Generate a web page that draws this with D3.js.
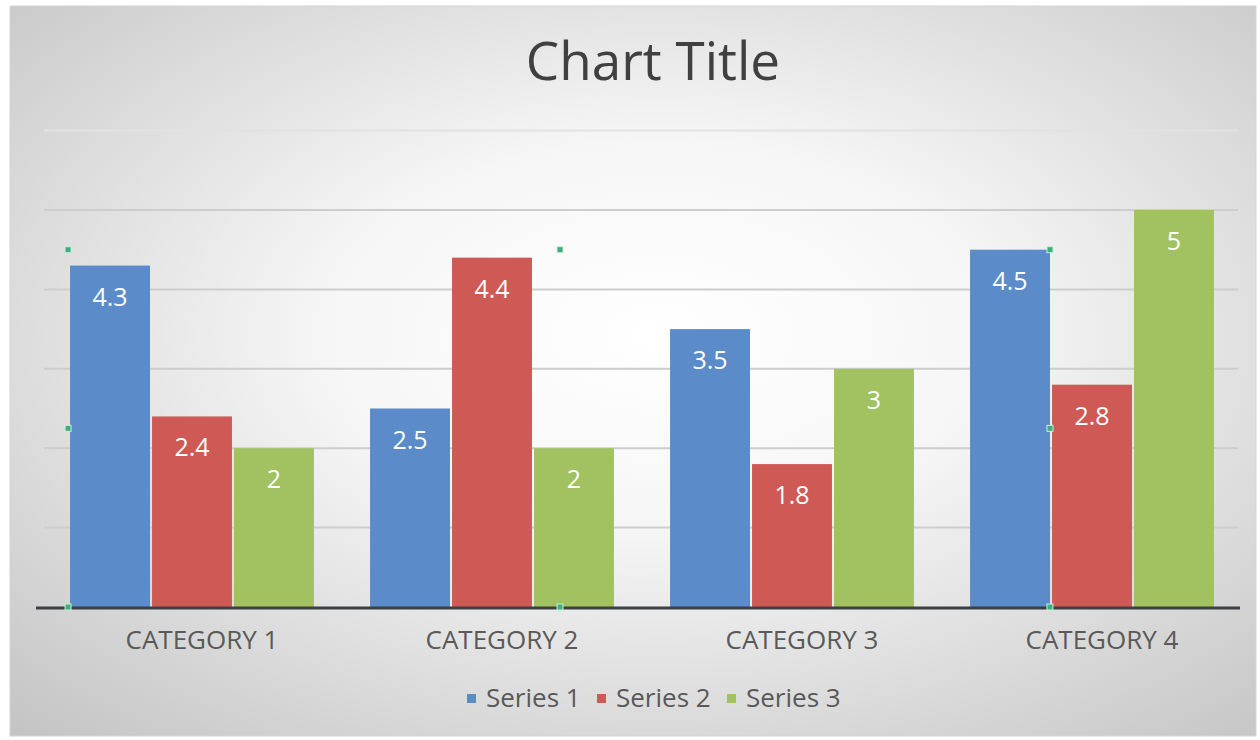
<!DOCTYPE html>
<html>
<head>
<meta charset="utf-8">
<script src="https://cdn.jsdelivr.net/npm/d3@7"></script>
<style>
  html, body { margin: 0; padding: 0; background: #fff; }
  svg { display: block; font-family: "Open Sans", "Noto Sans", sans-serif; }
</style>
</head>
<body>
<svg id="chart" width="1260" height="740"></svg>
<script>
const categories = ['CATEGORY 1', 'CATEGORY 2', 'CATEGORY 3', 'CATEGORY 4']
const seriesNames = ['Series 1', 'Series 2', 'Series 3']
const series1 = [4.3, 2.5, 3.5, 4.5]
const series2 = [2.4, 4.4, 1.8, 2.8]
const series3 = [2, 2, 3, 5]
const yTicks = [1, 2, 3, 4, 5, 6]
const colors = ['#5b8bc8', '#cf5a55', '#a2c262']

const W = 1260
const H = 740
const svg = d3.select('#chart')

// NOTE: background with radial gradient
const defs = svg.append('defs')
const grad = defs.append('radialGradient')
  .attr('id', 'bg')
  .attr('cx', '52%').attr('cy', '45%').attr('r', '75%')
grad.append('stop').attr('offset', '0%').attr('stop-color', '#ffffff')
grad.append('stop').attr('offset', '35%').attr('stop-color', '#f6f6f6')
grad.append('stop').attr('offset', '100%').attr('stop-color', '#c4c4c4')

svg.append('rect')
  .attr('x', 10).attr('y', 6)
  .attr('width', W - 14).attr('height', H - 10)
  .attr('fill', 'url(#bg)')
  .attr('stroke', '#d4d4d4')

// NOTE: scales
const x0 = d3.scaleBand()
  .domain(categories)
  .range([42, 1242])
  .paddingInner(0.187)
  .paddingOuter(0.0935)

const x1 = d3.scaleBand()
  .domain(seriesNames)
  .range([0, x0.bandwidth()])
  .paddingInner(0.025)

const y = d3.scaleLinear().domain([0, 6]).range([607, 130.6])

// NOTE: gridlines
svg.append('g')
  .selectAll('line')
  .data(yTicks)
  .join('line')
  .attr('x1', 44).attr('x2', 1238)
  .attr('y1', d => y(d)).attr('y2', d => y(d))
  .attr('stroke', d => (d === 6 ? '#e2e2e2' : '#cdcdcd'))
  .attr('stroke-width', 2)

// NOTE: bars
const rows = categories.map((c, i) => ({
  category: c,
  values: [series1[i], series2[i], series3[i]],
}))

const groups = svg.append('g')
  .selectAll('g')
  .data(rows)
  .join('g')
  .attr('transform', d => `translate(${x0(d.category)},0)`)

const cells = groups.selectAll('g')
  .data(d => d.values.map((v, k) => ({ name: seriesNames[k], value: v, k })))
  .join('g')

cells.append('rect')
  .attr('x', d => x1(d.name))
  .attr('width', x1.bandwidth())
  .attr('y', d => y(d.value))
  .attr('height', d => y(0) - y(d.value))
  .attr('fill', d => colors[d.k])

cells.append('text')
  .attr('x', d => x1(d.name) + x1.bandwidth() / 2)
  .attr('y', d => y(d.value) + 40)
  .attr('text-anchor', 'middle')
  .attr('fill', '#ffffff')
  .attr('font-size', 25)
  .text(d => d.value)

// NOTE: baseline
svg.append('line')
  .attr('x1', 36).attr('x2', 1240)
  .attr('y1', y(0) + 1).attr('y2', y(0) + 1)
  .attr('stroke', '#3c3f45')
  .attr('stroke-width', 3)

// NOTE: category axis labels
svg.append('g')
  .selectAll('text')
  .data(categories)
  .join('text')
  .attr('x', d => x0(d) + x0.bandwidth() / 2 + 10)
  .attr('y', 649)
  .attr('text-anchor', 'middle')
  .attr('fill', '#595959')
  .attr('font-size', 26)
  .text(d => d)

// NOTE: title
svg.append('text')
  .attr('x', 653).attr('y', 80)
  .attr('text-anchor', 'middle')
  .attr('fill', '#404040')
  .attr('font-size', 53)
  .text('Chart Title')

// NOTE: legend
const legend = svg.append('g').attr('transform', 'translate(467,698)')
const legendX = d3.scaleOrdinal().domain(seriesNames).range([0, 130, 260])
const items = legend.selectAll('g')
  .data(seriesNames)
  .join('g')
  .attr('transform', d => `translate(${legendX(d)},0)`)
items.append('rect')
  .attr('x', 0).attr('y', -4)
  .attr('width', 9).attr('height', 9)
  .attr('fill', (d, i) => colors[i])
items.append('text')
  .attr('x', 19).attr('y', 9)
  .attr('fill', '#595959')
  .attr('font-size', 26)
  .text(d => d)

// NOTE: selection handles left over from the editor
const hx = [x0(categories[0]) - 2, (x0(categories[0]) + x0(categories[3]) + x1.bandwidth()) / 2, x0(categories[3]) + x1.bandwidth()]
const hy = [y(4.5), y(2.25), y(0)]
const handles = []
hx.forEach((hxv, i) => hy.forEach((hyv, j) => {
  if (i === 1 && j === 1) return
  handles.push([hxv, hyv])
}))
svg.append('g')
  .selectAll('rect')
  .data(handles)
  .join('rect')
  .attr('x', d => d[0] - 3).attr('y', d => d[1] - 3)
  .attr('width', 6).attr('height', 6)
  .attr('fill', '#3fae7e')
  .attr('stroke', '#c8f0dc')
</script>
</body>
</html>
